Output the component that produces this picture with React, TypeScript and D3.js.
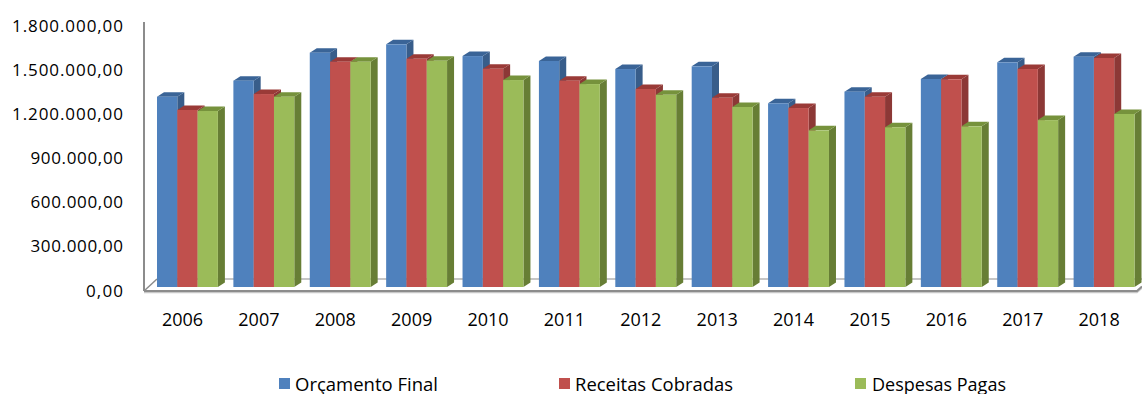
import React from "react";
import * as d3 from "d3";

// Yearly budget figures (R$)
const years = ["2006", "2007", "2008", "2009", "2010", "2011", "2012", "2013", "2014", "2015", "2016", "2017", "2018"];
const orcamentoFinal = [1278000, 1386000, 1574000, 1630000, 1551000, 1518000, 1464000, 1482000, 1234000, 1312000, 1397000, 1509000, 1547000];
const receitasCobradas = [1189000, 1296000, 1513000, 1533000, 1466000, 1386000, 1330000, 1271000, 1202000, 1278000, 1395000, 1464000, 1538000];
const despesasPagas = [1182000, 1278000, 1513000, 1520000, 1390000, 1363000, 1291000, 1209000, 1052000, 1073000, 1079000, 1121000, 1162000];
const yTicks = [0, 300000, 600000, 900000, 1200000, 1500000, 1800000];
const seriesNames = ["Orçamento Final", "Receitas Cobradas", "Despesas Pagas"];

const W = 1142;
const H = 394;

// front, side, top shades per series
const palette = [
  { front: "#4F81BD", side: "#385D8A", top: "#3A6497" },
  { front: "#C0504D", side: "#8C3836", top: "#9A3A37" },
  { front: "#9BBB59", side: "#677E35", top: "#76923C" },
];

const fmt = (v: number) => {
  const s = d3.format(",.2f")(v); // 1,800,000.00
  return s.replace(/,/g, "#").replace(".", ",").replace(/#/g, ".");
};

export default function App() {
  const series = [orcamentoFinal, receitasCobradas, despesasPagas];

  const plotLeft = 144;
  const plotRight = 1137;
  const floorY = 291;
  const x = d3.scaleBand<string>().domain(years).range([plotLeft, plotRight]).padding(0);
  const yBar = d3.scaleLinear().domain([0, 1800000]).range([287, 19]);
  const yAxis = d3.scaleLinear().domain([0, 1800000]).range([290, 25]);

  const barW = 20.3;
  const barOffset = 13;
  const ddx = 7;
  const ddy = -4.5;
  const fdx = 13;
  const fdy = -12;

  const font = "'Open Sans', 'Liberation Sans', sans-serif";

  const bars: React.ReactNode[] = [];
  years.forEach((yr, i) => {
    const x0 = (x(yr) as number) + barOffset;
    series.forEach((vals, s) => {
      const bx = x0 + s * barW;
      const top = yBar(vals[i]);
      const bottom = yBar(0);
      const c = palette[s];
      const bx2 = bx + barW;
      bars.push(
        <g key={`${yr}-${s}`}>
          <path
            d={`M${bx2},${top}L${bx2 + ddx},${top + ddy}L${bx2 + ddx},${bottom + ddy}L${bx2},${bottom}Z`}
            fill={c.side}
          />
          <path
            d={`M${bx},${top}L${bx + ddx},${top + ddy}L${bx2 + ddx},${top + ddy}L${bx2},${top}Z`}
            fill={c.top}
          />
          <rect x={bx} y={top} width={barW} height={bottom - top} fill={c.front} />
        </g>
      );
    });
  });

  const legendItems = [
    { sq: 279, tx: 295, len: 143 },
    { sq: 559, tx: 575, len: 158 },
    { sq: 855, tx: 872, len: 134 },
  ];

  return (
    <svg
      width={W}
      height={H}
      style={{ position: "absolute", left: 0, top: 0, background: "#fff" }}
      xmlns="http://www.w3.org/2000/svg"
    >
      {/* floor */}
      <path
        d={`M${plotLeft + fdx},${floorY + fdy}L${W},${floorY + fdy}`}
        stroke="#8C8C8C"
        strokeWidth={1.2}
        fill="none"
      />
      <path
        d={`M${plotLeft},${floorY}L${plotLeft + fdx},${floorY + fdy}`}
        stroke="#8C8C8C"
        strokeWidth={1.5}
        fill="none"
      />
      {/* value axis */}
      <line x1={plotLeft} x2={plotLeft} y1={22} y2={floorY} stroke="#8C8C8C" strokeWidth={2} />
      {yTicks.map((t) => {
        const label = fmt(t);
        return (
          <text
            key={t}
            x={123}
            y={yAxis(t)}
            textAnchor="end"
            dominantBaseline="central"
            fontFamily={font}
            fontSize={17}
            textLength={label.length * 9.25}
            lengthAdjust="spacing"
            fill="#000"
          >
            {label}
          </text>
        );
      })}
      {bars}
      {/* floor front edge */}
      <path
        d={`M${plotLeft},${floorY + 1.5}L${plotRight},${floorY + 1.5}L${W},${floorY - 3}`}
        stroke="#C8C8C8"
        strokeWidth={1.5}
        fill="none"
      />
      <path
        d={`M${plotLeft},${floorY}L${plotRight},${floorY}L${W},${floorY - 4.5}`}
        stroke="#8C8C8C"
        strokeWidth={2}
        fill="none"
      />
      {years.map((yr) => (
        <text
          key={yr}
          x={(x(yr) as number) + 38.5}
          y={319}
          textAnchor="middle"
          dominantBaseline="central"
          fontFamily={font}
          fontSize={18}
          fill="#000"
        >
          {yr}
        </text>
      ))}
      {seriesNames.map((name, s) => (
        <g key={name}>
          <rect x={legendItems[s].sq} y={378} width={11} height={11} fill={palette[s].front} />
          <text
            x={legendItems[s].tx}
            y={383.5}
            dominantBaseline="central"
            fontFamily={font}
            fontSize={18}
            textLength={legendItems[s].len}
            lengthAdjust="spacingAndGlyphs"
            fill="#000"
          >
            {name}
          </text>
        </g>
      ))}
    </svg>
  );
}
